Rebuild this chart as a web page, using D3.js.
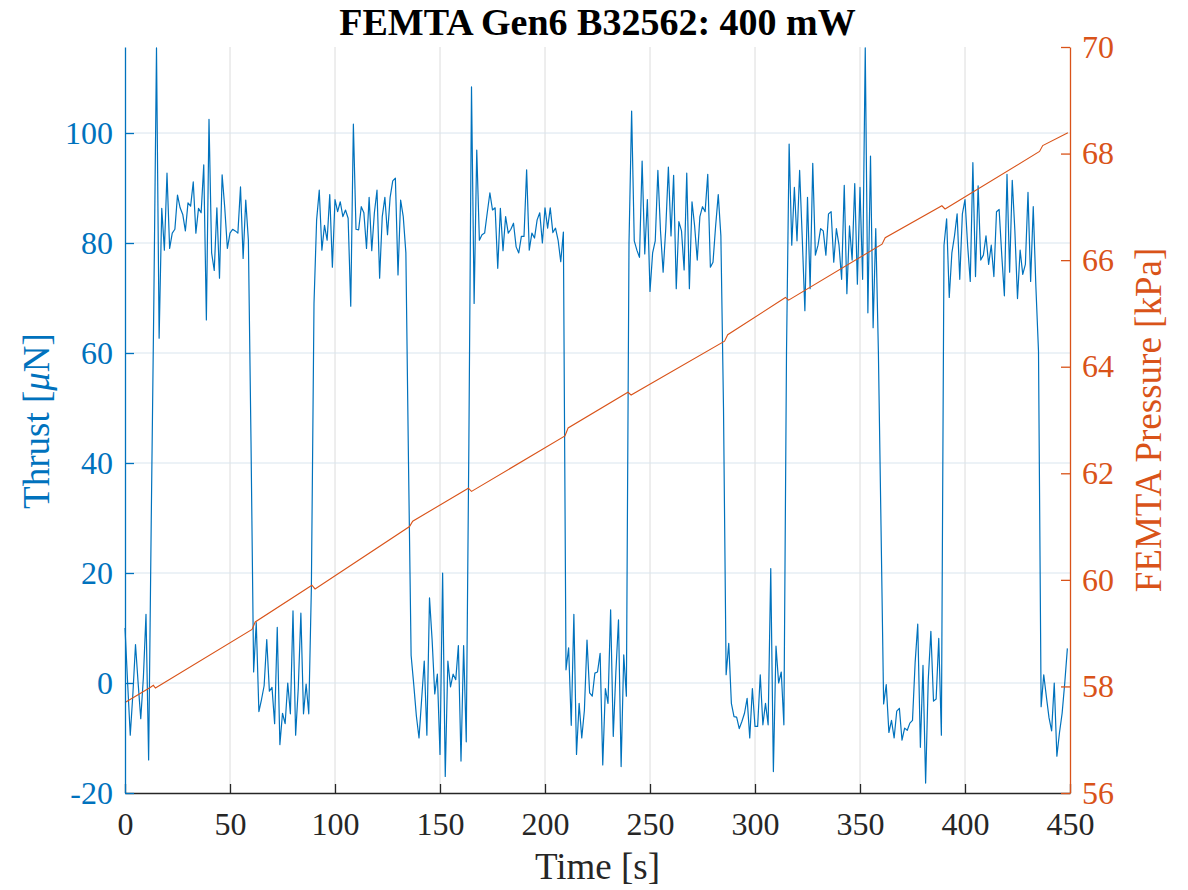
<!DOCTYPE html>
<html>
<head>
<meta charset="utf-8">
<script src="https://cdn.jsdelivr.net/npm/d3@7"></script>
<style>
  body { margin: 0; background: #fff; }
  svg text { font-family: "Liberation Serif", "Times New Roman", serif; }
</style>
</head>
<body>
<div id="chart"></div>
<script>
// one thrust reading every 1.25 s
const sampleInterval = 1.25;

const thrust = [
  // off
  10, 0, -9.5, -2, 7, 0, -6.5, 1, 12.5, -14, 29.6, 70, 115.5,
  // on
  62.7, 86.3, 78.7, 92.7, 79, 81.8, 82.5, 88.7, 86.4, 85.2, 82.2, 87.3, 86.7, 91.1, 81.8, 86.3, 85.5, 94.2,
  66, 102.5, 78.2, 75, 86.4, 73.6, 92.4, 86.4, 79, 81.8, 82.5, 82.2, 81.8, 90.2, 77.2, 87.8, 80.5, 44,
  // off
  2, 11, -5.2, -3, -0.5, 7.9, -1.5, -0.8, -7.4, 10.1, -11.2, -5.5, -7.4, 0, -5.6, 13.1, -9.5, -1, 12.7,
  -5.6, -0.2, -5.6, 17.3, 69,
  // on
  84.2, 89.6, 78.7, 83.2, 80.5, 88.8, 75.6, 87.9, 85.7, 87.5, 84.8, 86, 84.5, 68.5, 101.6, 82.5, 82.4,
  86.6, 85.5, 79, 88.3, 78.6, 85.5, 89.6, 73.6, 84.8, 88.3, 81.5, 88.3, 91.3, 91.8, 74.2, 87.8, 84.8, 78.2,
  40, 5,
  // off
  -0.3, -6, -10, -3, 4, -9.5, 15.5, 7.8, -2, 1.6, -13, 20, -17, 4, -0.7, 1.6, 0.6, 6.8, -14.2, 6.8, -10.7, 43.6,
  // on
  108.4, 69, 96.9, 80.5, 81.5, 81.8, 85.5, 89.1, 86, 86.4, 75.4, 86.3, 78.6, 84.8, 81.8, 82.5, 83.6, 79.3,
  78.2, 81.2, 81.2, 93.3, 78.7, 81.8, 80.9, 84.2, 85.5, 80, 86.4, 82.7, 86.4, 81.9, 82.7, 80.5, 76.6, 82,
  2.4,
  // off
  6.4, -7.7, 12.5, -13, -3.7, -10, -5, 7.8, -1.8, -2.4, 1.8, 2, 5.4, -14.9, -1, -3.7, 13.3, -9.7, 2, 11.5,
  -15.2, 5.1, -2.4,
  // on
  80, 104, 80.4,
  78.7, 77.4, 94.9, 78, 87.9, 71.2, 78.2, 80.4, 93.2, 82.2, 74.7, 82.6, 93.8, 81.3, 92.3, 71.7, 83.9, 82.2,
  75.1, 92.7, 71.7, 87.5, 83.1, 76.9, 84.8, 86.6, 85.7, 92.5, 75.6, 76.5, 83.1, 88.8, 81.3,
  50, 1.5,
  // off
  7.2, -3.7, -6.1, -6.2, -8.3, -7, -5.5, -2.8, -10, -1, -7.9, -7.9, 1.5, -7.6, -3.7, -7.6, 20.8, -16.1,
  6.7, 0, 2, -7.6,
  // on
  60, 98,
  79.6, 90.1, 80.4, 93.2, 80.9, 67.7, 88.3, 71.7, 94.5, 77.8, 79.6, 82.6,
  82.2, 77.8, 85.3, 85.7, 76.5, 82.6, 79.6, 73.4, 90.5, 70.8, 83.1, 76.9, 90.8, 72.5, 90.1, 73.4, 115.5,
  67.3, 95.8, 64.6, 82.6, 60.3, 28.7,
  // off
  -3.8, -0.3, -9, -6.8, -10, -5.1, -4.6, -10.4, -8.2, -8.6, -7.3, -6.8, 3.7, 10.7, -11.7, 3.2, -18.2,
  0.6, 9.4, -3.3, -2.9, 8.1, -9.5,
  // on
  79.6,
  84.4, 70.1, 78.2, 81.3, 85.3, 73.4, 85.3, 87.9, 79.6, 73, 94.6, 73.9, 90.4, 76.9, 77.8, 81.3, 76.1, 79.6,
  73.9, 85.7, 86.1, 77.8, 70.4, 92.5, 74.7, 91.4, 82.2, 69.9, 78.7, 74.3, 76.1, 89.2, 73, 86.6, 72.1,
  60.3,
  // off
  -4.3, 1.5, -2.5, -6.3, -8.7, 0, -13.3, -9, -5.5, 0, 6.3
];

// pressure read at its break points (small steps when the thruster switches)
const pressureTime = [0, 12, 13.5, 14.5, 60.5, 62, 89, 90.5, 135.5, 137, 163.5, 165, 209.5, 211,
  239.5, 241, 285.5, 287, 314.5, 316, 360.5, 362, 389, 390.5, 435.5, 437, 449];
const pressureKpa = [57.70, 57.98, 58.02, 57.97, 59.07, 59.21, 59.90, 59.83, 61.00, 61.10, 61.72, 61.66,
  62.70, 62.85, 63.52, 63.47, 64.48, 64.60, 65.30, 65.25, 66.30, 66.42, 67.02, 66.96, 68.04, 68.15, 68.39];

const timeTicks = [0, 50, 100, 150, 200, 250, 300, 350, 400, 450];
const thrustTicks = [-20, 0, 20, 40, 60, 80, 100];
const pressureTicks = [56, 58, 60, 62, 64, 66, 68, 70];

const blue = "#0072BD", orange = "#D95319", dark = "#262626";

const W = 1188, H = 890;
const plotLeft = 125, plotRight = 1070, plotTop = 47, plotBottom = 793;

const svg = d3.select("#chart").append("svg")
  .attr("width", W)
  .attr("height", H);

const x = d3.scaleLinear().domain([0, 450]).range([plotLeft, plotRight]);
const yL = d3.scaleLinear().domain([-20, 115.64]).range([plotBottom, plotTop]);
const yR = d3.scaleLinear().domain([56, 70]).range([plotBottom, plotTop]);

// grid
svg.append("g").selectAll("line")
  .data(timeTicks.slice(1, -1))
  .join("line")
  .attr("x1", d => x(d)).attr("x2", d => x(d))
  .attr("y1", plotTop).attr("y2", plotBottom)
  .attr("stroke", "#dcdcdc").attr("stroke-width", 1);

svg.append("g").selectAll("line")
  .data(thrustTicks.slice(1))
  .join("line")
  .attr("x1", plotLeft).attr("x2", plotRight)
  .attr("y1", d => yL(d)).attr("y2", d => yL(d))
  .attr("stroke", "#d9e5ee").attr("stroke-width", 1);

// lines
const thrustLine = d3.line()
  .x((d, i) => x(i * sampleInterval))
  .y(d => yL(d));

svg.append("path")
  .datum(thrust)
  .attr("fill", "none")
  .attr("stroke", blue)
  .attr("stroke-width", 1.2)
  .attr("stroke-linejoin", "round")
  .attr("d", thrustLine);

const pressureLine = d3.line()
  .x((d, i) => x(pressureTime[i]))
  .y(d => yR(d));

svg.append("path")
  .datum(pressureKpa)
  .attr("fill", "none")
  .attr("stroke", orange)
  .attr("stroke-width", 1.1)
  .attr("d", pressureLine);

// axes
function styleAxis(g, color) {
  g.select(".domain").attr("stroke", color).attr("stroke-width", 1.3);
  g.selectAll(".tick line").attr("stroke", color).attr("stroke-width", 1.3);
  g.selectAll(".tick text")
    .attr("fill", color)
    .style("font-size", "32px")
    .style("font-family", "'Liberation Serif', 'Times New Roman', serif");
}

const plain = d => String(d);

svg.append("g")
  .attr("transform", `translate(0,${plotBottom})`)
  .call(d3.axisBottom(x).tickValues(timeTicks).tickFormat(plain)
    .tickSizeInner(-9).tickSizeOuter(0).tickPadding(19))
  .call(g => styleAxis(g, dark));

svg.append("g")
  .attr("transform", `translate(${plotLeft},0)`)
  .call(d3.axisLeft(yL).tickValues(thrustTicks).tickFormat(plain)
    .tickSizeInner(-9).tickSizeOuter(0).tickPadding(12))
  .call(g => styleAxis(g, blue));

svg.append("g")
  .attr("transform", `translate(${plotRight},0)`)
  .call(d3.axisRight(yR).tickValues(pressureTicks).tickFormat(plain)
    .tickSizeInner(-9).tickSizeOuter(0).tickPadding(12))
  .call(g => styleAxis(g, orange));

// texts
svg.append("text")
  .attr("x", (plotLeft + plotRight) / 2)
  .attr("y", 35)
  .attr("text-anchor", "middle")
  .style("font-size", "38px")
  .style("font-weight", "bold")
  .attr("fill", "#000")
  .text("FEMTA Gen6 B32562: 400 mW");

svg.append("text")
  .attr("x", (plotLeft + plotRight) / 2)
  .attr("y", 879)
  .attr("text-anchor", "middle")
  .style("font-size", "37px")
  .attr("fill", dark)
  .text("Time [s]");

const thrustLabel = svg.append("text")
  .attr("transform", "translate(49,421) rotate(-90)")
  .attr("text-anchor", "middle")
  .style("font-size", "37px")
  .attr("fill", blue);
thrustLabel.append("tspan").text("Thrust [");
thrustLabel.append("tspan").style("font-style", "italic").text("μ");
thrustLabel.append("tspan").text("N]");

svg.append("text")
  .attr("transform", "translate(1161,420) rotate(-90)")
  .attr("text-anchor", "middle")
  .style("font-size", "37px")
  .attr("fill", orange)
  .text("FEMTA Pressure [kPa]");
</script>
</body>
</html>
